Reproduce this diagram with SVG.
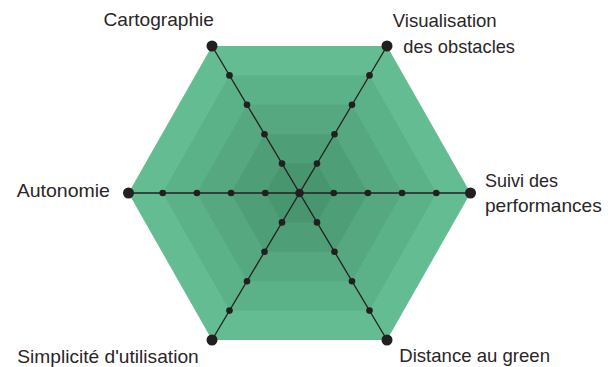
<svg xmlns="http://www.w3.org/2000/svg" width="608" height="367" viewBox="0 0 608 367">
<style>
.lbl{font-family:"Liberation Sans",Arial,sans-serif;font-size:18.5px;fill:#2a2627;}
.ax{stroke:#231f20;stroke-width:1.3;fill:none;}
.big{fill:#231f20;}
.sm{fill:#231f20;}
</style>
<rect width="608" height="367" fill="#ffffff"/>
<g id="layers">
<polygon points="128.5,193 212,46 387,46 470.5,193 387,340 212,340" fill="#64bc92"/>
<polygon points="162.7,193 229.5,75.4 369.5,75.4 436.3,193 369.5,310.6 229.5,310.6" fill="#5cb288"/>
<polygon points="196.9,193 247,104.8 352,104.8 402.1,193 352,281.2 247,281.2" fill="#55a880"/>
<polygon points="231.1,193 264.5,134.2 334.5,134.2 367.9,193 334.5,251.8 264.5,251.8" fill="#4e9f78"/>
<polygon points="265.3,193 282,163.6 317,163.6 333.7,193 317,222.4 282,222.4" fill="#479670"/>
</g>
<g id="connectors">
<line class="ax" x1="128.5" y1="193" x2="470.5" y2="193"/>
<line class="ax" x1="212" y1="46" x2="387" y2="340"/>
<line class="ax" x1="387" y1="46" x2="212" y2="340"/>
</g>
<g id="dots">
<g class="sm">
<circle cx="162.7" cy="193" r="3.3"/><circle cx="196.9" cy="193" r="3.3"/><circle cx="231.1" cy="193" r="3.3"/><circle cx="265.3" cy="193" r="3.3"/>
<circle cx="436.3" cy="193" r="3.3"/><circle cx="402.1" cy="193" r="3.3"/><circle cx="367.9" cy="193" r="3.3"/><circle cx="333.7" cy="193" r="3.3"/>
<circle cx="229.5" cy="75.4" r="3.3"/><circle cx="247" cy="104.8" r="3.3"/><circle cx="264.5" cy="134.2" r="3.3"/><circle cx="282" cy="163.6" r="3.3"/>
<circle cx="369.5" cy="75.4" r="3.3"/><circle cx="352" cy="104.8" r="3.3"/><circle cx="334.5" cy="134.2" r="3.3"/><circle cx="317" cy="163.6" r="3.3"/>
<circle cx="229.5" cy="310.6" r="3.3"/><circle cx="247" cy="281.2" r="3.3"/><circle cx="264.5" cy="251.8" r="3.3"/><circle cx="282" cy="222.4" r="3.3"/>
<circle cx="369.5" cy="310.6" r="3.3"/><circle cx="352" cy="281.2" r="3.3"/><circle cx="334.5" cy="251.8" r="3.3"/><circle cx="317" cy="222.4" r="3.3"/>
<circle cx="299.5" cy="193" r="4.3"/>
</g>
</g>
<g id="node-cartographie"><circle class="big" cx="212" cy="46" r="5.5"/><text class="lbl" x="103.5" y="26" textLength="110.5" lengthAdjust="spacingAndGlyphs">Cartographie</text></g>
<g id="node-visualisation"><circle class="big" cx="387" cy="46" r="5.5"/><text class="lbl" x="392.7" y="26.7" textLength="104" lengthAdjust="spacingAndGlyphs">Visualisation</text><text class="lbl" x="403.3" y="52.7" textLength="111.7" lengthAdjust="spacingAndGlyphs">des obstacles</text></g>
<g id="node-suivi"><circle class="big" cx="470.5" cy="193" r="5.5"/><text class="lbl" x="485" y="187.3" textLength="73" lengthAdjust="spacingAndGlyphs">Suivi des</text><text class="lbl" x="485" y="211.5" textLength="116.7" lengthAdjust="spacingAndGlyphs">performances</text></g>
<g id="node-distance"><circle class="big" cx="387" cy="340" r="5.5"/><text class="lbl" x="399.3" y="361.7" textLength="150.7" lengthAdjust="spacingAndGlyphs">Distance au green</text></g>
<g id="node-simplicite"><circle class="big" cx="212" cy="340" r="5.5"/><text class="lbl" x="17.3" y="362.5" textLength="181.4" lengthAdjust="spacingAndGlyphs">Simplicité d'utilisation</text></g>
<g id="node-autonomie"><circle class="big" cx="128.5" cy="193" r="5.5"/><text class="lbl" x="16.7" y="196.5" textLength="93.3" lengthAdjust="spacingAndGlyphs">Autonomie</text></g>
</svg>
